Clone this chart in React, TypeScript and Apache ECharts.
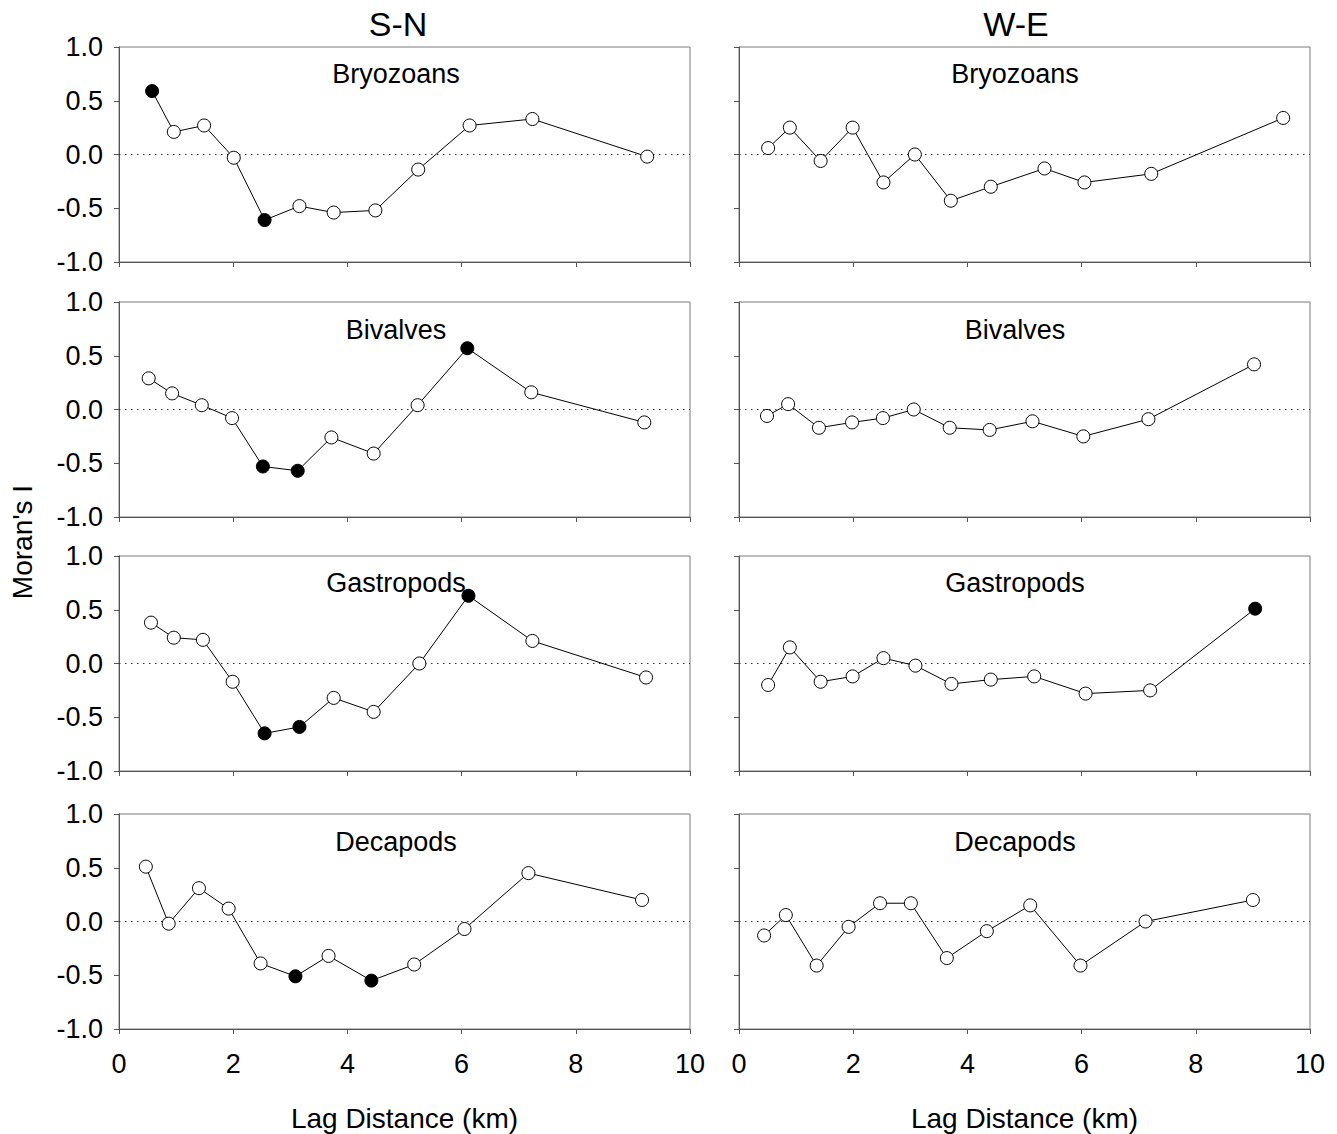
import React, { useEffect, useRef } from "react";
import * as echarts from "echarts";

// ---- Data (lag distance in km, Moran's I) ----
const snBryozoansLag = [0.58, 0.96, 1.49, 2.01, 2.55, 3.16, 3.76, 4.49, 5.24, 6.14, 7.24, 9.25];
const snBryozoansI = [0.59, 0.21, 0.27, -0.03, -0.61, -0.48, -0.54, -0.52, -0.14, 0.27, 0.33, -0.02];
const snBryozoansSig = [0, 4];

const weBryozoansLag = [0.51, 0.89, 1.43, 1.99, 2.53, 3.08, 3.71, 4.41, 5.35, 6.05, 7.22, 9.53];
const weBryozoansI = [0.06, 0.25, -0.06, 0.25, -0.26, 0.0, -0.43, -0.3, -0.13, -0.26, -0.18, 0.34];
const weBryozoansSig: number[] = [];

const snBivalvesLag = [0.52, 0.93, 1.45, 1.98, 2.52, 3.13, 3.72, 4.46, 5.23, 6.1, 7.22, 9.2];
const snBivalvesI = [0.29, 0.15, 0.04, -0.08, -0.53, -0.57, -0.26, -0.41, 0.04, 0.57, 0.16, -0.12];
const snBivalvesSig = [4, 5, 9];

const weBivalvesLag = [0.49, 0.86, 1.4, 1.98, 2.52, 3.06, 3.69, 4.39, 5.14, 6.03, 7.17, 9.02];
const weBivalvesI = [-0.06, 0.05, -0.17, -0.12, -0.08, 0.0, -0.17, -0.19, -0.11, -0.25, -0.09, 0.42];
const weBivalvesSig: number[] = [];

const snGastropodsLag = [0.56, 0.96, 1.47, 1.99, 2.55, 3.16, 3.76, 4.46, 5.26, 6.12, 7.24, 9.23];
const snGastropodsI = [0.38, 0.24, 0.22, -0.17, -0.65, -0.59, -0.32, -0.45, 0.0, 0.63, 0.21, -0.13];
const snGastropodsSig = [4, 5, 9];

const weGastropodsLag = [0.51, 0.89, 1.43, 1.99, 2.53, 3.09, 3.72, 4.41, 5.17, 6.07, 7.2, 9.04];
const weGastropodsI = [-0.2, 0.15, -0.17, -0.12, 0.05, -0.02, -0.19, -0.15, -0.12, -0.28, -0.25, 0.51];
const weGastropodsSig = [11];

const snDecapodsLag = [0.47, 0.87, 1.4, 1.92, 2.48, 3.09, 3.67, 4.42, 5.17, 6.05, 7.17, 9.16];
const snDecapodsI = [0.51, -0.02, 0.31, 0.12, -0.39, -0.51, -0.32, -0.55, -0.4, -0.07, 0.45, 0.2];
const snDecapodsSig = [5, 7];

const weDecapodsLag = [0.44, 0.82, 1.36, 1.92, 2.47, 3.01, 3.64, 4.34, 5.1, 5.98, 7.12, 9.0];
const weDecapodsI = [-0.13, 0.06, -0.41, -0.05, 0.17, 0.17, -0.34, -0.09, 0.15, -0.41, 0.0, 0.2];
const weDecapodsSig: number[] = [];

const taxa = ["Bryozoans", "Bivalves", "Gastropods", "Decapods"];
const directions = ["S-N", "W-E"];
const xTicks = [0, 2, 4, 6, 8, 10];
const yTicks = [-1.0, -0.5, 0.0, 0.5, 1.0];
const xAxisTitle = "Lag Distance (km)";
const yAxisTitle = "Moran's I";

const panels = [
  { lag: snBryozoansLag, val: snBryozoansI, sig: snBryozoansSig },
  { lag: weBryozoansLag, val: weBryozoansI, sig: weBryozoansSig },
  { lag: snBivalvesLag, val: snBivalvesI, sig: snBivalvesSig },
  { lag: weBivalvesLag, val: weBivalvesI, sig: weBivalvesSig },
  { lag: snGastropodsLag, val: snGastropodsI, sig: snGastropodsSig },
  { lag: weGastropodsLag, val: weGastropodsI, sig: weGastropodsSig },
  { lag: snDecapodsLag, val: snDecapodsI, sig: snDecapodsSig },
  { lag: weDecapodsLag, val: weDecapodsI, sig: weDecapodsSig },
];

const FONT = "'Liberation Sans', Arial, Helvetica, sans-serif";

export default function App() {
  const ref = useRef<HTMLDivElement>(null);

  useEffect(() => {
    if (!ref.current) return;
    const chart = echarts.init(ref.current, undefined, { renderer: "svg" });

    const colLeft = [119, 739];
    const plotW = 571;
    const rowTop = [47, 302, 556, 814];
    const plotH = 215;
    const titleCx = [396, 1015];
    const titleY = [74, 330, 583, 842];

    const grids: any[] = [];
    const xAxes: any[] = [];
    const yAxes: any[] = [];
    const series: any[] = [];
    const graphics: any[] = [];

    panels.forEach((p, i) => {
      const row = Math.floor(i / 2);
      const col = i % 2;
      grids.push({
        left: colLeft[col],
        top: rowTop[row],
        width: plotW,
        height: plotH,
        show: true,
        borderColor: "#7a7a7a",
        borderWidth: 1,
        backgroundColor: "transparent",
        containLabel: false,
      });
      xAxes.push({
        type: "value",
        gridIndex: i,
        min: xTicks[0],
        max: xTicks[xTicks.length - 1],
        interval: 2,
        axisLine: { show: true, onZero: false, lineStyle: { color: "#555", width: 1 } },
        axisTick: { show: true, inside: false, length: 5, lineStyle: { color: "#555" } },
        splitLine: { show: false },
        axisLabel: {
          show: row === 3,
          fontSize: 27,
          fontFamily: FONT,
          color: "#000",
          margin: 21,
        },
      });
      yAxes.push({
        type: "value",
        gridIndex: i,
        min: yTicks[0],
        max: yTicks[yTicks.length - 1],
        interval: 0.5,
        axisLine: { show: true, onZero: false, lineStyle: { color: "#555", width: 1 } },
        axisTick: { show: true, inside: false, length: 5, lineStyle: { color: "#555" } },
        splitLine: { show: false },
        axisLabel: {
          show: col === 0,
          fontSize: 27,
          fontFamily: FONT,
          color: "#000",
          margin: 16,
          formatter: (v: number) => v.toFixed(1),
        },
      });
      series.push({
        type: "line",
        xAxisIndex: i,
        yAxisIndex: i,
        data: p.lag.map((x, k) => ({
          value: [x, p.val[k]],
          itemStyle: { color: p.sig.includes(k) ? "#000" : "#fff" },
        })),
        symbol: "circle",
        symbolSize: 13,
        showAllSymbol: true,
        lineStyle: { color: "#000", width: 1 },
        itemStyle: { borderColor: "#000", borderWidth: 1 },
        z: 3,
        markLine: {
          silent: true,
          symbol: "none",
          label: { show: false },
          lineStyle: { color: "#333", width: 1, type: [1.5, 4.5] },
          data: [{ yAxis: 0 }],
          z: 1,
        },
      });
      graphics.push({
        type: "text",
        x: titleCx[col],
        y: titleY[row],
        style: {
          text: taxa[row],
          fontSize: 27,
          fontFamily: FONT,
          fill: "#000",
          align: "center",
          verticalAlign: "middle",
        },
      });
    });

    // column headers
    const headerCx = [398, 1016];
    directions.forEach((d, c) => {
      graphics.push({
        type: "text",
        x: headerCx[c],
        y: 24,
        style: {
          text: d,
          fontSize: 34,
          fontFamily: FONT,
          fill: "#000",
          align: "center",
          verticalAlign: "middle",
        },
      });
      graphics.push({
        type: "text",
        x: colLeft[c] + plotW / 2,
        y: 1118,
        style: {
          text: xAxisTitle,
          fontSize: 28,
          fontFamily: FONT,
          fill: "#000",
          align: "center",
          verticalAlign: "middle",
        },
      });
    });
    graphics.push({
      type: "text",
      x: 22,
      y: 542,
      rotation: Math.PI / 2,
      style: {
        text: yAxisTitle,
        fontSize: 28,
        fontFamily: FONT,
        fill: "#000",
        align: "center",
        verticalAlign: "middle",
      },
    });

    chart.setOption({
      animation: false,
      backgroundColor: "#fff",
      grid: grids,
      xAxis: xAxes,
      yAxis: yAxes,
      series,
      graphic: graphics,
    });

    return () => chart.dispose();
  }, []);

  return (
    <div
      ref={ref}
      style={{ position: "absolute", left: 0, top: 0, width: 1337, height: 1134 }}
    />
  );
}
